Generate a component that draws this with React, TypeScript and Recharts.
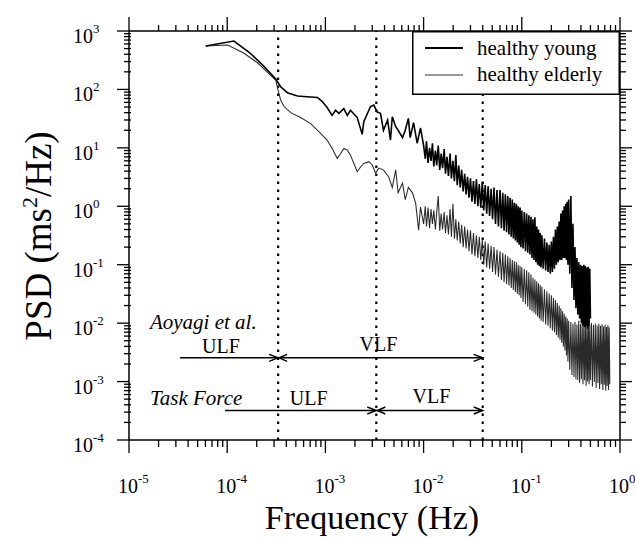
import React from "react";
import { LineChart, Line, XAxis, YAxis, ReferenceLine, Legend } from "recharts";

const FONT = "'Liberation Serif', 'DejaVu Serif', serif";

// healthy young PSD
const youngFreq = [
  6.05e-5, 1.17e-4, 1.66e-4, 2.3e-4, 3.12e-4, 3.5e-4, 4.1e-4, 5.2e-4, 6.5e-4, 8.3e-4,
  9.3e-4, 1.04e-3, 1.17e-3, 1.27e-3, 1.37e-3, 1.54e-3, 1.67e-3, 1.8e-3, 2.11e-3, 2.37e-3,
  2.46e-3, 2.88e-3, 3.11e-3, 3.37e-3, 3.64e-3,
  0.0039, 0.0043, 0.0046, 0.0048, 0.0052, 0.0055, 0.0061, 0.0065, 0.007, 0.0073,
  0.0079, 0.0086, 0.0093,
  0.01, 0.0104, 0.0107, 0.0111, 0.0115, 0.0119, 0.0123, 0.0127, 0.0132, 0.0136,
  0.0141, 0.0146, 0.0151, 0.0156, 0.0162, 0.0167, 0.0173, 0.0179, 0.0186, 0.0192,
  0.0199, 0.0206, 0.0213, 0.022, 0.0228, 0.0236, 0.0244, 0.0253, 0.0262, 0.0271,
  0.028, 0.029, 0.03, 0.0311, 0.0322, 0.0333, 0.0345, 0.0357, 0.0369, 0.0382,
  0.0396, 0.041, 0.0424, 0.0439, 0.0454, 0.047, 0.0487, 0.0504, 0.0521, 0.054,
  0.0559, 0.0578,
  0.06, 0.062, 0.064, 0.066, 0.068, 0.07, 0.072, 0.074, 0.076, 0.078,
  0.08, 0.082, 0.084, 0.086, 0.088, 0.09, 0.092, 0.094, 0.096, 0.098,
  0.1, 0.103, 0.106, 0.109, 0.112, 0.115, 0.118, 0.121, 0.124, 0.127,
  0.13, 0.133, 0.136, 0.139, 0.142, 0.145, 0.148, 0.151, 0.154, 0.157,
  0.16, 0.165, 0.17, 0.175, 0.18, 0.185, 0.19, 0.195, 0.2, 0.205,
  0.21, 0.215, 0.22, 0.225, 0.23, 0.235, 0.24, 0.245, 0.25, 0.255,
  0.26, 0.265, 0.27, 0.275, 0.28, 0.285, 0.29, 0.295,
  0.3, 0.308, 0.316, 0.324, 0.332, 0.34, 0.348, 0.356, 0.364, 0.372,
  0.38, 0.388, 0.396, 0.404, 0.412, 0.42, 0.428, 0.436, 0.444, 0.452,
  0.46, 0.468, 0.476, 0.484, 0.492, 0.5,
];
const youngPsd = [
  553, 674, 437, 262, 151, 111, 88, 77, 75, 73,
  62, 49, 36, 44, 39, 47, 36, 44, 33, 17,
  28, 51, 54, 41, 39,
  20, 30, 13.6, 34, 23, 20, 15, 20, 32, 15,
  27, 12, 22,
  11, 6.5, 13, 5.5, 10, 6, 12, 4.8, 9, 5,
  11, 4.2, 8, 4.5, 9.5, 3.6, 7, 3.3, 8, 3,
  6, 2.7, 7.5, 2.3, 5, 2.1, 4.2, 1.8, 3.6, 1.6,
  3.2, 1.4, 3, 1.2, 2.7, 1.1, 2.9, 1.0, 2.4, 0.95,
  2.6, 0.85, 2.3, 0.75, 2.2, 0.68, 2.0, 0.6, 2.1, 0.5,
  1.9, 0.45,
  1.9, 0.42, 1.7, 0.38, 1.6, 0.36, 1.5, 0.33, 1.4, 0.3,
  1.3, 0.28, 1.15, 0.26, 1.1, 0.24, 1.0, 0.22, 0.95, 0.2,
  0.85, 0.19, 0.8, 0.17, 0.75, 0.16, 0.7, 0.15, 0.66, 0.13,
  0.6, 0.12, 0.65, 0.11, 0.45, 0.1, 0.4, 0.095, 0.35, 0.09,
  0.32, 0.085, 0.28, 0.08, 0.24, 0.075, 0.22, 0.07, 0.25, 0.075,
  0.3, 0.085, 0.4, 0.1, 0.45, 0.11, 0.55, 0.12, 0.75, 0.12,
  0.85, 0.13, 1.0, 0.13, 1.1, 0.12, 1.2, 0.1,
  1.3, 0.07, 1.5, 0.04, 0.5, 0.025, 0.2, 0.018, 0.13, 0.014,
  0.11, 0.012, 0.1, 0.01, 0.095, 0.009, 0.1, 0.0085, 0.095, 0.009,
  0.09, 0.008, 0.092, 0.009, 0.085, 0.012,
];

// healthy elderly PSD
const elderlyFreq = [
  6.05e-5, 1.01e-4, 1.47e-4, 2.05e-4, 3.12e-4, 3.29e-4, 3.5e-4, 3.79e-4, 4.43e-4, 5.6e-4,
  7.08e-4, 8.94e-4, 1.04e-3, 1.17e-3, 1.32e-3, 1.43e-3, 1.54e-3, 1.67e-3, 1.8e-3, 1.95e-3,
  2.11e-3, 2.28e-3, 2.46e-3, 2.77e-3, 3.0e-3, 3.24e-3, 3.5e-3,
  0.0039, 0.0044, 0.0048, 0.0052, 0.0055, 0.0061, 0.0065, 0.007, 0.0077, 0.0083,
  0.0089, 0.0093,
  0.01, 0.0104, 0.0107, 0.0111, 0.0115, 0.0119, 0.0123, 0.0127, 0.0132, 0.0136,
  0.0141, 0.0146, 0.0151, 0.0156, 0.0162, 0.0167, 0.0173, 0.0179, 0.0186, 0.0192,
  0.0199, 0.0206, 0.0213, 0.022, 0.0228, 0.0236, 0.0244, 0.0253, 0.0262, 0.0271,
  0.028, 0.029, 0.03, 0.0311, 0.0322, 0.0333, 0.0345, 0.0357, 0.0369, 0.0382,
  0.0396, 0.041, 0.0424, 0.0439, 0.0454, 0.047, 0.0487, 0.0504, 0.0521, 0.054,
  0.0559, 0.0578,
  0.06, 0.062, 0.064, 0.066, 0.068, 0.07, 0.072, 0.074, 0.076, 0.078,
  0.08, 0.082, 0.084, 0.086, 0.088, 0.09, 0.092, 0.094, 0.096, 0.098,
  0.1, 0.103, 0.106, 0.109, 0.112, 0.115, 0.118, 0.121, 0.124, 0.127,
  0.13, 0.133, 0.136, 0.139, 0.142, 0.145, 0.148, 0.151, 0.154, 0.157,
  0.16, 0.165, 0.17, 0.175, 0.18, 0.185, 0.19, 0.195, 0.2, 0.205,
  0.21, 0.215, 0.22, 0.225, 0.23, 0.235, 0.24, 0.245, 0.25, 0.255,
  0.26, 0.265, 0.27, 0.275, 0.28, 0.285, 0.29, 0.295,
  0.3, 0.308, 0.316, 0.324, 0.332, 0.34, 0.348, 0.356, 0.364, 0.372,
  0.38, 0.388, 0.396, 0.404, 0.412, 0.42, 0.428, 0.436, 0.444, 0.452,
  0.46, 0.468, 0.476, 0.484, 0.492, 0.5,
  0.512, 0.524, 0.536, 0.548, 0.56, 0.572, 0.584, 0.596, 0.608, 0.62,
  0.632, 0.644, 0.656, 0.668, 0.68, 0.692, 0.704, 0.716, 0.728, 0.74,
  0.752, 0.764, 0.776, 0.788,
];
const elderlyPsd = [
  553, 575, 420, 283, 145, 98, 66, 51, 40, 33,
  26, 17.7, 13.6, 9.8, 6.6, 8, 9.8, 9.2, 7.5, 5.4,
  3.9, 4.7, 5.4, 5.8, 5.1, 3.7, 4.5,
  4.2, 3.2, 2.1, 4.2, 1.7, 2.5, 1.3, 2.1, 1.7, 1.13,
  0.39, 0.97,
  0.5, 1.0, 0.45, 0.95, 0.42, 0.9, 0.5, 0.85, 0.4, 0.8,
  1.5, 0.38, 0.75, 0.4, 0.8, 0.35, 0.7, 0.33, 0.9, 0.3,
  1.1, 0.28, 0.6, 0.26, 0.55, 0.23, 0.48, 0.2, 0.45, 0.19,
  0.4, 0.17, 0.39, 0.15, 0.35, 0.14, 0.32, 0.13, 0.3, 0.12,
  0.27, 0.1, 0.25, 0.09, 0.23, 0.085, 0.21, 0.075, 0.2, 0.068,
  0.18, 0.062,
  0.17, 0.055, 0.16, 0.05, 0.15, 0.047, 0.14, 0.044, 0.13, 0.04,
  0.12, 0.037, 0.115, 0.034, 0.11, 0.032, 0.1, 0.03, 0.095, 0.027,
  0.09, 0.023, 0.085, 0.021, 0.08, 0.019, 0.074, 0.017, 0.068, 0.016,
  0.06, 0.015, 0.056, 0.014, 0.052, 0.013, 0.048, 0.012, 0.045, 0.011,
  0.042, 0.0105, 0.038, 0.0095, 0.035, 0.009, 0.032, 0.0082, 0.03, 0.0075,
  0.027, 0.007, 0.025, 0.0063, 0.022, 0.0057, 0.02, 0.0052, 0.018, 0.0046,
  0.016, 0.004, 0.0145, 0.0034, 0.013, 0.0028, 0.012, 0.0022,
  0.011, 0.0016, 0.0105, 0.0013, 0.0098, 0.0012, 0.0105, 0.0011, 0.0095, 0.00105,
  0.011, 0.00095, 0.0097, 0.0011, 0.0104, 0.0009, 0.0095, 0.00105, 0.0102, 0.00085,
  0.0096, 0.001, 0.0103, 0.0009, 0.0094, 0.00105,
  0.0101, 0.00082, 0.0093, 0.00098, 0.0099, 0.00078, 0.0091, 0.00095, 0.0098, 0.00075,
  0.009, 0.0009, 0.0096, 0.00072, 0.0088, 0.00088, 0.0094, 0.0007, 0.0086, 0.00085,
  0.0092, 0.00072, 0.0085, 0.0009,
];

const young = youngFreq.map((f, i) => ({ f, p: youngPsd[i] }));
const elderly = elderlyFreq.map((f, i) => ({ f, p: elderlyPsd[i] }));

// decades shown on the axes
const xDecades = [-5, -4, -3, -2, -1, 0];
const yDecades = [-4, -3, -2, -1, 0, 1, 2, 3];

const logTicks = (decades: number[]) => {
  const out: number[] = [];
  decades.slice(0, -1).forEach((d) => {
    for (let m = 1; m <= 9; m++) out.push(Number((m * Math.pow(10, d)).toPrecision(3)));
  });
  out.push(Math.pow(10, decades[decades.length - 1]));
  return out;
};
const xTicks = logTicks(xDecades);
const yTicks = logTicks(yDecades);

// band boundaries (Hz) and the two classification schemes
const boundaries = [3.3e-4, 3.3e-3, 0.04];
const aoyagiY = 2.55e-3;
const taskForceY = 3.2e-4;

const isMajor = (v: number) => Math.abs(Math.log10(v) - Math.round(Math.log10(v))) < 1e-6;
const expOf = (v: number) => Math.round(Math.log10(v));

const Pow = ({ x, y, v }: { x: number; y: number; v: number }) => (
  <text x={x} y={y} fontFamily={FONT} fontSize={20} fill="#000">
    10
    <tspan dy={-10} fontSize={13}>
      {expOf(v)}
    </tspan>
  </text>
);

const BottomTick = (p: any) => {
  const major = isMajor(p.payload.value);
  return (
    <g>
      <line x1={p.x} x2={p.x} y1={p.y} y2={p.y + (major ? 13 : 7)} stroke="#000" strokeWidth={1.3} />
      {major && <Pow x={p.x - 11} y={p.y + 53} v={p.payload.value} />}
    </g>
  );
};

const TopTick = (p: any) => {
  const major = isMajor(p.payload.value);
  return <line x1={p.x} x2={p.x} y1={p.y} y2={p.y - (major ? 14 : 6)} stroke="#000" strokeWidth={1.3} />;
};

const LeftTick = (p: any) => {
  const major = isMajor(p.payload.value);
  return (
    <g>
      <line x1={p.x + (major ? 0 : 2)} x2={p.x - (major ? 12 : 5)} y1={p.y} y2={p.y} stroke="#000" strokeWidth={1.3} />
      {major && <Pow x={p.x - 56} y={p.y + 12} v={p.payload.value} />}
    </g>
  );
};

const RightTick = (p: any) => {
  const major = isMajor(p.payload.value);
  return <line x1={p.x} x2={p.x + (major ? 12 : 6)} y1={p.y} y2={p.y} stroke="#000" strokeWidth={1.3} />;
};

const arrow = (text: string, both: boolean, dx: number, dy: number, caption?: string, cx = 0, cy = 0) =>
  (p: any) => {
    const { x1, y1, x2, y2 } = p;
    const L = 9;
    const W = 3.5;
    return (
      <g>
        <line x1={x1} y1={y1} x2={x2} y2={y2} stroke="#000" strokeWidth={1.4} />
        <polyline points={`${x2 - L},${y2 - W} ${x2},${y2} ${x2 - L},${y2 + W}`} fill="none" stroke="#000" strokeWidth={1.4} />
        {both && (
          <polyline points={`${x1 + L},${y1 - W} ${x1 + 1},${y1} ${x1 + L},${y1 + W}`} fill="none" stroke="#000" strokeWidth={1.4} />
        )}
        <text x={(x1 + x2) / 2 + dx} y={y1 + dy} textAnchor="middle" fontFamily={FONT} fontSize={20} fill="#000">
          {text}
        </text>
        {caption && (
          <text x={x1 + cx} y={y1 + cy} fontFamily={FONT} fontStyle="italic" fontSize={21} fill="#000">
            {caption}
          </text>
        )}
      </g>
    );
  };

const LegendBox = () => (
  <svg width={208} height={64} style={{ display: "block" }}>
    <rect x={0.75} y={0.75} width={206.5} height={62.5} fill="#fff" stroke="#000" strokeWidth={1.5} />
    <line x1={13} x2={51} y1={17} y2={17} stroke="#000" strokeWidth={1.8} />
    <text x={65} y={24} fontFamily={FONT} fontSize={21} fill="#000">
      healthy young
    </text>
    <line x1={13} x2={51} y1={44} y2={44} stroke="#333" strokeWidth={1} />
    <text x={65} y={50} fontFamily={FONT} fontSize={21} fill="#000">
      healthy elderly
    </text>
  </svg>
);

const axisLine = { stroke: "#000", strokeWidth: 1.5 };

export default function App() {
  return (
    <div style={{ position: "absolute", left: 0, top: 0, width: 635, height: 538, background: "#fff", fontFamily: FONT }}>
      <LineChart width={635} height={538} margin={{ top: 0, right: 0, bottom: 0, left: 0 }}>
        <XAxis
          xAxisId="b"
          dataKey="f"
          type="number"
          scale="log"
          domain={[1e-5, 1]}
          allowDataOverflow
          ticks={xTicks}
          interval={0}
          tickSize={0}
          tickMargin={0}
          tickLine={false}
          tick={BottomTick}
          height={98}
          axisLine={axisLine}
        />
        <XAxis
          xAxisId="t"
          orientation="top"
          dataKey="f"
          type="number"
          scale="log"
          domain={[1e-5, 1]}
          allowDataOverflow
          ticks={xTicks}
          interval={0}
          tickSize={0}
          tickMargin={0}
          tickLine={false}
          tick={TopTick}
          height={31}
          axisLine={axisLine}
        />
        <YAxis
          yAxisId="l"
          type="number"
          scale="log"
          domain={[1e-4, 1e3]}
          allowDataOverflow
          ticks={yTicks}
          interval={0}
          tickSize={0}
          tickMargin={0}
          tickLine={false}
          tick={LeftTick}
          width={129}
          axisLine={axisLine}
        />
        <YAxis
          yAxisId="r"
          orientation="right"
          type="number"
          scale="log"
          domain={[1e-4, 1e3]}
          allowDataOverflow
          ticks={yTicks}
          interval={0}
          tickSize={0}
          tickMargin={0}
          tickLine={false}
          tick={RightTick}
          width={15}
          axisLine={axisLine}
        />

        <ReferenceLine xAxisId="b" yAxisId="l" x={boundaries[0]} stroke="#000" strokeWidth={2.2} strokeDasharray="2.5 5.5" />
        <ReferenceLine xAxisId="b" yAxisId="l" x={boundaries[1]} stroke="#000" strokeWidth={2.2} strokeDasharray="2.5 5.5" />
        <ReferenceLine
          xAxisId="b"
          yAxisId="l"
          segment={[{ x: boundaries[2], y: 1e-4 }, { x: boundaries[2], y: 80 }]}
          stroke="#000"
          strokeWidth={2.2}
          strokeDasharray="2.5 5.5"
        />

        <ReferenceLine
          xAxisId="b"
          yAxisId="l"
          segment={[{ x: 3.3e-5, y: aoyagiY }, { x: boundaries[0], y: aoyagiY }]}
          shape={arrow("ULF", false, -8, -5, "Aoyagi et al.", -30, -29)}
        />
        <ReferenceLine
          xAxisId="b"
          yAxisId="l"
          segment={[{ x: boundaries[0], y: aoyagiY }, { x: boundaries[2], y: aoyagiY }]}
          shape={arrow("VLF", true, -2, -7)}
        />
        <ReferenceLine
          xAxisId="b"
          yAxisId="l"
          segment={[{ x: 9.5e-5, y: taskForceY }, { x: boundaries[1], y: taskForceY }]}
          shape={arrow("ULF", false, 8, -5, "Task Force", -75, -5)}
        />
        <ReferenceLine
          xAxisId="b"
          yAxisId="l"
          segment={[{ x: boundaries[1], y: taskForceY }, { x: boundaries[2], y: taskForceY }]}
          shape={arrow("VLF", true, 2, -7)}
        />

        <Line
          xAxisId="b"
          yAxisId="l"
          data={elderly}
          dataKey="p"
          name="healthy elderly"
          type="linear"
          stroke="#2a2a2a"
          strokeWidth={1.05}
          dot={false}
          isAnimationActive={false}
        />
        <Line
          xAxisId="b"
          yAxisId="l"
          data={young}
          dataKey="p"
          name="healthy young"
          type="linear"
          stroke="#000"
          strokeWidth={1.6}
          dot={false}
          isAnimationActive={false}
        />

        <Legend
          layout="horizontal"
          verticalAlign="middle"
          align="center"
          wrapperStyle={{ left: 412, top: 31, width: 208, height: 64 }}
          content={() => <LegendBox />}
        />
      </LineChart>

      {/* axis titles */}
      <svg width={635} height={538} style={{ position: "absolute", left: 0, top: 0, pointerEvents: "none" }}>
        <text x={372} y={529} textAnchor="middle" fontFamily={FONT} fontSize={34} fill="#000">
          Frequency (Hz)
        </text>
        <text transform="translate(51,236) rotate(-90)" textAnchor="middle" fontFamily={FONT} fontSize={37} fill="#000">
          PSD (ms
          <tspan dy={-14} fontSize={22}>
            2
          </tspan>
          <tspan dy={14}>/Hz)</tspan>
        </text>
      </svg>
    </div>
  );
}
